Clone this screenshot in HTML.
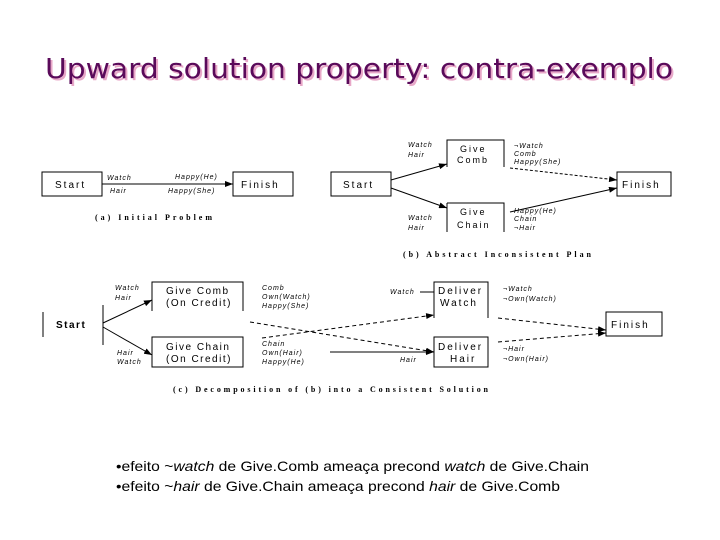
<!DOCTYPE html>
<html><head><meta charset="utf-8"><style>
html,body{margin:0;padding:0;background:#fff;}
svg{display:block}
</style></head><body>
<svg width="720" height="540" viewBox="0 0 720 540" xmlns="http://www.w3.org/2000/svg" font-family="Liberation Sans, sans-serif">
<defs>
<marker id="ar" markerWidth="8" markerHeight="6" refX="8" refY="3" orient="auto" markerUnits="userSpaceOnUse"><path d="M0,0 L8,3 L0,6 z" fill="#000"/></marker>
</defs>
<text x="47" y="80" font-size="28" fill="#e8a8c8" textLength="628" lengthAdjust="spacingAndGlyphs" font-family="DejaVu Sans, sans-serif">Upward solution property: contra-exemplo</text>
<text x="45" y="78" font-size="28" fill="#5a0a5a" textLength="628" lengthAdjust="spacingAndGlyphs" font-family="DejaVu Sans, sans-serif">Upward solution property: contra-exemplo</text>

<g stroke="#000" stroke-width="1" fill="none">
<rect x="42" y="172" width="60" height="24"/>
<rect x="233" y="172" width="60" height="24"/>
<line x1="102" y1="184" x2="233" y2="184" marker-end="url(#ar)"/>
<rect x="331" y="172" width="60" height="24"/>
<rect x="617" y="172" width="54" height="24"/>
<path d="M447,167 V140 H504 V167"/>
<path d="M447,203 V232 M447,203 H504 V232"/>
<line x1="391" y1="180" x2="447" y2="164" marker-end="url(#ar)"/>
<line x1="391" y1="188" x2="447" y2="208" marker-end="url(#ar)"/>
<line x1="510" y1="168" x2="617" y2="180" stroke-dasharray="3,2" marker-end="url(#ar)"/>
<line x1="510" y1="212" x2="617" y2="188" marker-end="url(#ar)"/>
<line x1="43" y1="312" x2="43" y2="337"/>
<line x1="103" y1="305" x2="103" y2="345"/>
<path d="M152,311 V282 H243 V311"/>
<rect x="152" y="337" width="91" height="30"/>
<path d="M434,318 V282 H488 V318"/>
<rect x="434" y="337" width="54" height="30"/>
<rect x="606" y="312" width="56" height="24"/>
<line x1="103" y1="323" x2="152" y2="300" marker-end="url(#ar)"/>
<line x1="103" y1="327" x2="152" y2="355" marker-end="url(#ar)"/>
<line x1="250" y1="322" x2="434" y2="352" stroke-dasharray="4,3" marker-end="url(#ar)"/>
<line x1="262" y1="338" x2="434" y2="315" stroke-dasharray="4,3" marker-end="url(#ar)"/>
<line x1="330" y1="352" x2="434" y2="352" marker-end="url(#ar)"/>
<line x1="498" y1="318" x2="606" y2="330" stroke-dasharray="4,3" marker-end="url(#ar)"/>
<line x1="498" y1="342" x2="606" y2="333" stroke-dasharray="4,3" marker-end="url(#ar)"/>
<line x1="420" y1="292" x2="434" y2="292"/>
</g>

<g font-size="8" fill="#000">
<g letter-spacing="2" font-size="10">
<text x="55" y="188">Start</text>
<text x="241" y="188">Finish</text>
<text x="343" y="188">Start</text>
<text x="622" y="188">Finish</text>
<text x="460" y="152" font-size="9">Give</text>
<text x="457" y="163" font-size="9">Comb</text>
<text x="460" y="215" font-size="9">Give</text>
<text x="457" y="228" font-size="9">Chain</text>
<text x="611" y="328">Finish</text>
<text x="166" y="294" letter-spacing="1.5">Give Comb</text>
<text x="166" y="306" letter-spacing="1.5">(On Credit)</text>
<text x="166" y="350" letter-spacing="1.5">Give Chain</text>
<text x="166" y="362" letter-spacing="1.5">(On Credit)</text>
<text x="438" y="294">Deliver</text>
<text x="440" y="306">Watch</text>
<text x="438" y="350">Deliver</text>
<text x="450" y="362">Hair</text>
</g>
<text x="56" y="328" font-size="10" font-weight="bold" letter-spacing="1.5">Start</text>
<g font-style="italic" font-size="7" letter-spacing="1">
<text x="107" y="180">Watch</text>
<text x="110" y="193">Hair</text>
<text x="175" y="179">Happy(He)</text>
<text x="168" y="193">Happy(She)</text>
<text x="408" y="147">Watch</text><text x="408" y="157">Hair</text>
<text x="514" y="148">¬Watch</text><text x="514" y="156">Comb</text><text x="514" y="164">Happy(She)</text>
<text x="408" y="220">Watch</text><text x="408" y="230">Hair</text>
<text x="514" y="213">Happy(He)</text><text x="514" y="221">Chain</text><text x="514" y="230">¬Hair</text>
<text x="115" y="290">Watch</text><text x="115" y="300">Hair</text>
<text x="262" y="290">Comb</text><text x="262" y="299">Own(Watch)</text><text x="262" y="308">Happy(She)</text>
<text x="117" y="355">Hair</text><text x="117" y="364">Watch</text>
<text x="262" y="346">Chain</text><text x="262" y="355">Own(Hair)</text><text x="262" y="364">Happy(He)</text>
<text x="390" y="294">Watch</text>
<text x="503" y="291">¬Watch</text><text x="503" y="301">¬Own(Watch)</text>
<text x="400" y="362">Hair</text>
<text x="503" y="351">¬Hair</text><text x="503" y="361">¬Own(Hair)</text>
</g>
<text x="95" y="220" font-family="Liberation Serif, serif" font-weight="bold" textLength="117">(a) Initial Problem</text>
<text x="403" y="257" font-family="Liberation Serif, serif" font-weight="bold" textLength="188">(b) Abstract Inconsistent Plan</text>
<text x="173" y="392" font-family="Liberation Serif, serif" font-weight="bold" textLength="315">(c) Decomposition of (b) into a Consistent Solution</text>
</g>

<g font-size="14" fill="#000">
<text x="116" y="471" textLength="473" lengthAdjust="spacingAndGlyphs">•efeito ~<tspan font-style="italic">watch</tspan> de Give.Comb ameaça precond <tspan font-style="italic">watch</tspan> de Give.Chain</text>
<text x="116" y="491" textLength="444" lengthAdjust="spacingAndGlyphs">•efeito ~<tspan font-style="italic">hair</tspan> de Give.Chain ameaça precond <tspan font-style="italic">hair</tspan> de Give.Comb</text>
</g>
</svg>
</body></html>
